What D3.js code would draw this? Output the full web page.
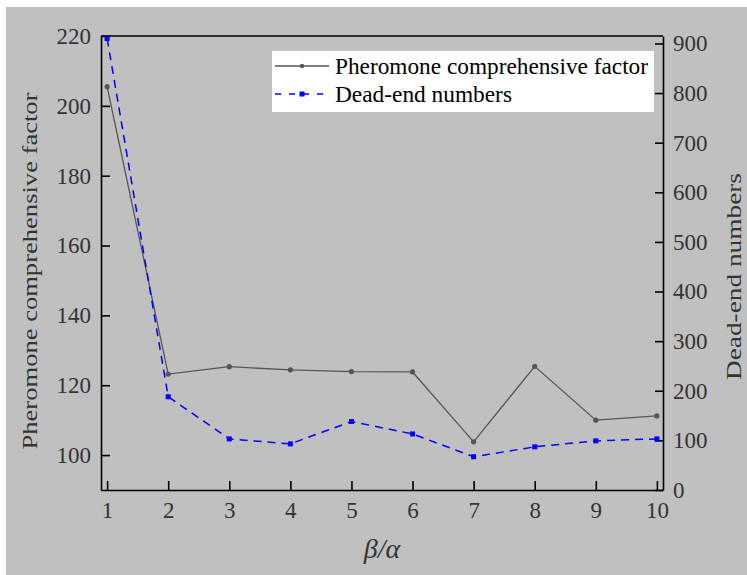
<!DOCTYPE html>
<html>
<head>
<meta charset="utf-8">
<script src="https://cdn.jsdelivr.net/npm/d3@7"></script>
<style>
  html, body { margin: 0; padding: 0; background: #ffffff; }
  svg { display: block; }
</style>
</head>
<body>
<svg id="chart" width="747" height="575"></svg>
<script>
// Ratio beta/alpha on the x axis
const ratios = [1, 2, 3, 4, 5, 6, 7, 8, 9, 10];
// Pheromone comprehensive factor (left axis)
const pheromoneFactor = [205.5, 123.2, 125.3, 124.4, 123.9, 123.8, 103.8, 125.4, 110.0, 111.2];
// Dead-end numbers (right axis)
const deadEnds = [910, 188, 103, 93, 138, 113, 67, 87, 99, 103];
// Tick labels
const leftTicks = [100, 120, 140, 160, 180, 200, 220];
const rightTicks = [0, 100, 200, 300, 400, 500, 600, 700, 800, 900];
const seriesNames = ["Pheromone comprehensive factor", "Dead-end numbers"];

const SERIF = '"Liberation Serif", "Times New Roman", Times, serif';

const svg = d3.select("#chart");
const plot = { left: 101, right: 663, top: 36, bottom: 490 };

// grey figure background
svg.append("rect")
  .attr("x", 6).attr("y", 7)
  .attr("width", 747 - 6).attr("height", 575 - 7)
  .attr("fill", "#c0c0c0");

const x = d3.scaleLinear().domain([0.9, 10.1]).range([plot.left, plot.right]);
const yL = d3.scaleLinear().domain([90, 220]).range([plot.bottom, plot.top]);
const yR = d3.scaleLinear().domain([0, 915]).range([plot.bottom, plot.top]);

function styleAxis(g) {
  g.attr("font-family", null).attr("font-size", null);
  g.selectAll("path.domain").attr("stroke", "#000").attr("stroke-width", 1.6);
  g.selectAll(".tick line").attr("stroke", "#000").attr("stroke-width", 1.6);
  g.selectAll(".tick text")
    .attr("fill", "#333")
    .style("font-size", "23px");
}

// axes with inward ticks
svg.append("g")
  .attr("transform", `translate(0,${plot.bottom})`)
  .call(d3.axisBottom(x).tickValues(ratios).tickFormat(d3.format("d"))
    .tickSizeInner(-9).tickSizeOuter(0).tickPadding(12))
  .call(styleAxis);

svg.append("g")
  .attr("transform", `translate(${plot.left},0)`)
  .call(d3.axisLeft(yL).tickValues(leftTicks).tickFormat(d3.format("d"))
    .tickSizeInner(-9).tickSizeOuter(0).tickPadding(10))
  .call(styleAxis);

svg.append("g")
  .attr("transform", `translate(${plot.right},0)`)
  .call(d3.axisRight(yR).tickValues(rightTicks).tickFormat(d3.format("d"))
    .tickSizeInner(-8).tickSizeOuter(0).tickPadding(10))
  .call(styleAxis);

// top frame line
svg.append("line")
  .attr("x1", plot.left).attr("x2", plot.right)
  .attr("y1", plot.top).attr("y2", plot.top)
  .attr("stroke", "#000").attr("stroke-width", 1.6);

// pheromone factor series
const linePher = d3.line().x((d, i) => x(ratios[i])).y(d => yL(d));
svg.append("path")
  .datum(pheromoneFactor)
  .attr("d", linePher)
  .attr("fill", "none")
  .attr("stroke", "#555")
  .attr("stroke-width", 1.3);
svg.append("g").selectAll("circle")
  .data(pheromoneFactor)
  .join("circle")
  .attr("cx", (d, i) => x(ratios[i]))
  .attr("cy", d => yL(d))
  .attr("r", 2.6)
  .attr("fill", "#555");

// dead-end series
const lineDead = d3.line().x((d, i) => x(ratios[i])).y(d => yR(d));
svg.append("path")
  .datum(deadEnds)
  .attr("d", lineDead)
  .attr("fill", "none")
  .attr("stroke", "#0000ff")
  .attr("stroke-width", 1.5)
  .attr("stroke-dasharray", "8,6");
svg.append("g").selectAll("rect")
  .data(deadEnds)
  .join("rect")
  .attr("x", (d, i) => x(ratios[i]) - 2.5)
  .attr("y", d => yR(d) - 2.5)
  .attr("width", 5).attr("height", 5)
  .attr("fill", "#0000ff");

// legend
const legend = svg.append("g");
legend.append("rect")
  .attr("x", 272).attr("y", 51)
  .attr("width", 382).attr("height", 61)
  .attr("fill", "#ffffff");
legend.append("line")
  .attr("x1", 275).attr("x2", 329).attr("y1", 66).attr("y2", 66)
  .attr("stroke", "#555").attr("stroke-width", 1.3);
legend.append("circle").attr("cx", 302).attr("cy", 66).attr("r", 2.2).attr("fill", "#555");
legend.append("line")
  .attr("x1", 275).attr("x2", 329).attr("y1", 94).attr("y2", 94)
  .attr("stroke", "#0000ff").attr("stroke-width", 1.5)
  .attr("stroke-dasharray", "6,8");
legend.append("rect").attr("x", 299.5).attr("y", 91.5).attr("width", 5).attr("height", 5).attr("fill", "#0000ff");
legend.append("text")
  .attr("x", 335).attr("y", 74)
  .attr("textLength", 313).attr("lengthAdjust", "spacingAndGlyphs")
  .style("font-size", "22.5px").attr("fill", "#000")
  .text(seriesNames[0]);
legend.append("text")
  .attr("x", 335).attr("y", 102)
  .attr("textLength", 177).attr("lengthAdjust", "spacingAndGlyphs")
  .style("font-size", "22.5px").attr("fill", "#000")
  .text(seriesNames[1]);

// axis titles
svg.append("text")
  .attr("transform", "translate(37,271) rotate(-90)")
  .attr("text-anchor", "middle")
  .attr("textLength", 357).attr("lengthAdjust", "spacingAndGlyphs")
  .style("font-size", "22px").attr("fill", "#333")
  .text(seriesNames[0]);
svg.append("text")
  .attr("transform", "translate(741,276.5) rotate(-90)")
  .attr("text-anchor", "middle")
  .attr("textLength", 207).attr("lengthAdjust", "spacingAndGlyphs")
  .style("font-size", "22px").attr("fill", "#333")
  .text(seriesNames[1]);
svg.append("text")
  .attr("x", 382).attr("y", 558)
  .attr("text-anchor", "middle")
  .style("font-size", "28px").style("font-style", "italic").attr("fill", "#333")
  .text("β/α");

// serif face for every label
svg.selectAll("text").style("font-family", SERIF);
</script>
</body>
</html>
